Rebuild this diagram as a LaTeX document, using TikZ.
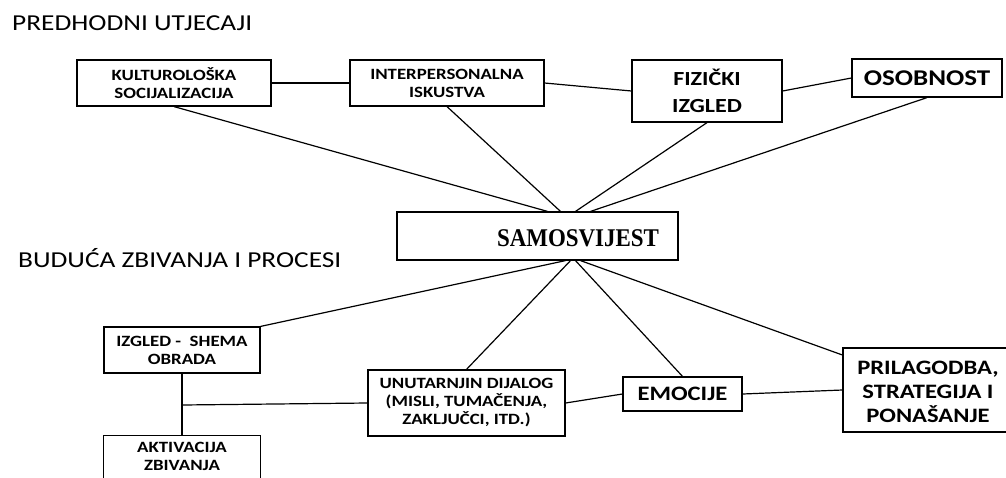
\documentclass[tikz,border=0pt]{standalone}
\usepackage{fontspec}
\setmainfont{Carlito}[FakeStretch=1.2]
\newfontfamily\serifb{Liberation Serif}[FakeStretch=0.9]
\usetikzlibrary{calc}
\tikzset{
  box/.style={draw, line width=1.2pt, inner sep=0pt, align=center},
  small/.style={font=\bfseries\fontsize{15.7}{18}\selectfont},
  large/.style={font=\bfseries\fontsize{20.5}{24}\selectfont},
  heading/.style={inner sep=0pt, font=\fontsize{22.8}{27}\selectfont},
  link/.style={line width=1.2pt}
}
\begin{document}
\begin{tikzpicture}[x=1pt,y=-1pt]
\useasboundingbox (0,0) rectangle (1006,477);
\fill[white] (0,0) rectangle (1006,477);
\clip (0,0) rectangle (1006,477);

\node[heading, anchor=base west] (h1) at (12,30) {PREDHODNI UTJECAJI};
\node[heading, anchor=base west] (h2) at (18,267) {BUDUĆA ZBIVANJA I PROCESI};

\node[box, small, minimum width=194pt, minimum height=46pt] (kult) at (174,83) {KULTUROLOŠKA\\SOCIJALIZACIJA};
\node[box, small, minimum width=194pt, minimum height=46pt] (inter) at (447,83) {INTERPERSONALNA\\ISKUSTVA};
\node[box, font=\bfseries\fontsize{20}{27}\selectfont, minimum width=150pt, minimum height=62pt] (fiz) at (707,91) {FIZIČKI\\IZGLED};
\node[box, font=\bfseries\fontsize{22.5}{26}\selectfont, minimum width=150pt, minimum height=38pt] (osob) at (927,78) {OSOBNOST};

\node[box, minimum width=281pt, minimum height=48pt] (samo) at (537.5,236) {};
\node[inner sep=0pt, font=\serifb\bfseries\fontsize{25.5}{28}\selectfont] (samotxt) at (578,238) {SAMOSVIJEST};

\node[box, small, minimum width=156pt, minimum height=46pt] (izgled) at (182,350) {IZGLED -~ SHEMA\\OBRADA};
\node[box, minimum width=157pt, minimum height=70pt, anchor=north] (aktiv) at (182,435) {};
\node[small, inner sep=0pt, align=center] (aktivtxt) at (182,456) {AKTIVACIJA\\ZBIVANJA};
\node[box, small, minimum width=197pt, minimum height=66pt] (unut) at (466.5,403) {UNUTARNJIN DIJALOG\\(MISLI, TUMAČENJA,\\ZAKLJUČCI, ITD.)};
\node[box, large, minimum width=119pt, minimum height=34pt] (emoc) at (682.5,394) {EMOCIJE};
\node[box, minimum width=170pt, minimum height=84pt] (pril) at (928,390) {};
\node[large, inner sep=0pt, align=center] (priltxt) at (928,392) {PRILAGODBA,\\STRATEGIJA I\\PONAŠANJE};

\coordinate (j) at (182,405);

\draw[link] (kult.east) -- (inter.west);
\draw[link] (inter.east) -- (fiz.west);
\draw[link] (fiz.east) -- (osob.west);
\draw[link] (kult.south) -- ([xshift=10pt]samo.north);
\draw[link] (inter.south) -- ([xshift=23pt]samo.north);
\draw[link] (fiz.south) -- ([xshift=38pt]samo.north);
\draw[link] (osob.south) -- ([xshift=53pt]samo.north);

\draw[link] (izgled.north east) -- ([xshift=28pt]samo.south);
\draw[link] (unut.north) -- ([xshift=33pt]samo.south);
\draw[link] (emoc.north) -- ([xshift=38pt]samo.south);
\draw[link] ([yshift=35pt]pril.west) -- ([xshift=43pt]samo.south);

\draw[link] (izgled.south) -- (aktiv.north);
\draw[link] (j) -- (unut.west);
\draw[link] (unut.east) -- (emoc.west);
\draw[link] (emoc.east) -- (pril.west);
\end{tikzpicture}
\end{document}
